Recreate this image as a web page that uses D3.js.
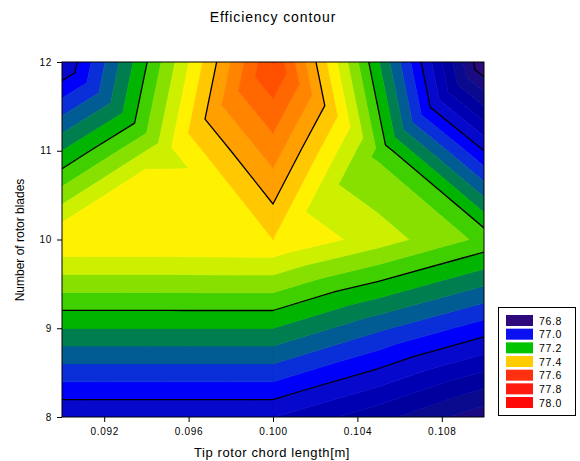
<!DOCTYPE html>
<html><head><meta charset="utf-8">
<script src="https://cdn.jsdelivr.net/npm/d3@7"></script>
<style>
html,body{margin:0;padding:0;background:#fff;}
svg text{font-family:"Liberation Sans",Arial,sans-serif;fill:#000;}
</style></head><body>
<svg id="chart" width="580" height="461"></svg>
<script>
// ---- data (grid nodes) ----
const chordLengths = [0.090, 0.095, 0.100, 0.105, 0.110];   // x grid [m]
const bladeCounts  = [8, 9, 10, 11, 12];                     // y grid
const effBlades8  = [76.961, 76.961, 76.961, 76.894, 76.815];
const effBlades9  = [77.160, 77.160, 77.160, 77.088, 77.020];
const effBlades10 = [77.358, 77.358, 77.360, 77.300, 77.230];
const effBlades11 = [77.160, 77.310, 77.460, 77.231, 77.000];
const effBlades12 = [76.957, 77.258, 77.563, 77.163, 76.760];

const fillThresholds = [76.76, 76.80, 76.84, 76.88, 76.92, 76.96, 77.00, 77.04, 77.08, 77.12,
                        77.16, 77.20, 77.24, 77.28, 77.32, 77.36, 77.40, 77.44, 77.48, 77.52, 77.56];
const fillColors = ["#300a78", "#2a0a7c", "#1a0a84", "#0a0a8e", "#00009e", "#0000b2", "#0608cc",
                    "#0000fa", "#0a2ed8", "#005c92", "#007e50", "#00b400", "#40d000", "#88e000",
                    "#ccf000", "#fff200", "#ffc800", "#ffa000", "#ff8400", "#ff6800", "#ff5000", "#ff3c00"];
const lineLevels = [76.8, 77.0, 77.2, 77.4];

const xTicks = [0.092, 0.096, 0.100, 0.104, 0.108];
const yTicks = [8, 9, 10, 11, 12];

const legendLabels = ["76.8", "77.0", "77.2", "77.4", "77.6", "77.8", "78.0"];
const legendColors = ["#2c0a7c", "#0a10f0", "#00c400", "#ffcc00", "#ff3010", "#ff1a10", "#ff0808"];

// ---- layout ----
const svg = d3.select("#chart");
const plot = {left: 62, right: 484, top: 62, bottom: 417};
const x = d3.scaleLinear().domain([0.090, 0.110]).range([plot.left, plot.right]);
const y = d3.scaleLinear().domain([8, 12]).range([plot.bottom, plot.top]);

const grid = [effBlades8, effBlades9, effBlades10, effBlades11, effBlades12];
function node(i, j) { return {x: x(chordLengths[i]), y: y(bladeCounts[j]), v: grid[j][i]}; }

// triangulation of the grid (alternating diagonals)
const triangles = [];
for (let j = 0; j < bladeCounts.length - 1; j++) {
  for (let i = 0; i < chordLengths.length - 1; i++) {
    const a = node(i, j), b = node(i + 1, j), c = node(i + 1, j + 1), d = node(i, j + 1);
    if ((i + j) % 2 === 1) { triangles.push([a, b, d]); triangles.push([b, c, d]); }
    else { triangles.push([a, b, c]); triangles.push([a, c, d]); }
  }
}

function interp(p, q, L) {
  const t = (L - p.v) / (q.v - p.v);
  return {x: p.x + t * (q.x - p.x), y: p.y + t * (q.y - p.y), v: L};
}
function clip(poly, L, above) {
  const out = [];
  const n = poly.length;
  for (let k = 0; k < n; k++) {
    const cur = poly[k], prev = poly[(k + n - 1) % n];
    const ci = above ? cur.v >= L : cur.v < L;
    const pi = above ? prev.v >= L : prev.v < L;
    if (ci) { if (!pi) out.push(interp(prev, cur, L)); out.push(cur); }
    else if (pi) out.push(interp(prev, cur, L));
  }
  return out;
}

svg.append("defs").append("clipPath").attr("id", "plotClip")
  .append("rect").attr("x", plot.left).attr("y", plot.top)
  .attr("width", plot.right - plot.left).attr("height", plot.bottom - plot.top);

const gPlot = svg.append("g").attr("clip-path", "url(#plotClip)");

fillColors.forEach((col, k) => {
  const lo = k === 0 ? -Infinity : fillThresholds[k - 1];
  const hi = k === fillThresholds.length ? Infinity : fillThresholds[k];
  let d = "";
  triangles.forEach(tri => {
    let poly = tri;
    if (lo !== -Infinity) poly = clip(poly, lo, true);
    if (poly.length >= 3 && hi !== Infinity) poly = clip(poly, hi, false);
    if (poly.length >= 3) {
      d += "M" + poly.map(p => p.x.toFixed(2) + "," + p.y.toFixed(2)).join("L") + "Z";
    }
  });
  if (d) gPlot.append("path").attr("d", d).attr("fill", col)
    .attr("stroke", col).attr("stroke-width", 0.6).attr("stroke-linejoin", "round");
});

// contour lines
const gLines = svg.append("g").attr("clip-path", "url(#plotClip)");
lineLevels.forEach(L => {
  let d = "";
  triangles.forEach(tri => {
    const pts = [];
    for (let k = 0; k < 3; k++) {
      const p = tri[k], q = tri[(k + 1) % 3];
      if ((p.v >= L) !== (q.v >= L)) pts.push(interp(p, q, L));
    }
    if (pts.length === 2) d += "M" + pts[0].x.toFixed(2) + "," + pts[0].y.toFixed(2) +
                               "L" + pts[1].x.toFixed(2) + "," + pts[1].y.toFixed(2);
  });
  gLines.append("path").attr("d", d).attr("fill", "none")
    .attr("stroke", "#000").attr("stroke-width", 1.3).attr("stroke-linecap", "round");
});

// frame
svg.append("rect").attr("x", plot.left).attr("y", plot.top)
  .attr("width", plot.right - plot.left).attr("height", plot.bottom - plot.top)
  .attr("fill", "none").attr("stroke", "#000").attr("stroke-width", 1);

// axes
const yAxis = d3.axisLeft(y).tickValues(yTicks).tickFormat(d3.format("d")).tickSize(5).tickPadding(5);
const gy = svg.append("g").attr("transform", `translate(${plot.left},0)`).call(yAxis);
const xAxis = d3.axisBottom(x).tickValues(xTicks).tickFormat(d3.format(".3f")).tickSize(5).tickPadding(6);
const gx = svg.append("g").attr("transform", `translate(0,${plot.bottom})`).call(xAxis);
[gx, gy].forEach(g => {
  g.select(".domain").remove();
  g.selectAll("text").attr("font-size", 10).style("letter-spacing", "0.7px")
    .style("font-family", '"Liberation Sans",Arial,sans-serif');
  g.selectAll("line").attr("stroke", "#000");
});

// titles
svg.append("text").attr("x", 273).attr("y", 22).attr("text-anchor", "middle")
  .attr("font-size", 14).style("letter-spacing", "0.9px").text("Efficiency contour");
svg.append("text").attr("x", 272).attr("y", 457).attr("text-anchor", "middle")
  .attr("font-size", 13).style("letter-spacing", "0.6px").text("Tip rotor chord length[m]");
svg.append("text").attr("transform", "translate(24,240) rotate(-90)").attr("text-anchor", "middle")
  .attr("font-size", 12).text("Number of rotor blades");

// legend
const lg = svg.append("g");
lg.append("rect").attr("x", 498.5).attr("y", 307.5).attr("width", 77).attr("height", 108)
  .attr("fill", "#fff").attr("stroke", "#000").attr("stroke-width", 1);
legendLabels.forEach((lab, k) => {
  const yy = 315 + k * 13.67;
  lg.append("rect").attr("x", 506).attr("y", yy).attr("width", 27).attr("height", 11)
    .attr("fill", legendColors[k]);
  lg.append("text").attr("x", 539).attr("y", yy + 9.5).attr("font-size", 10.5)
    .style("letter-spacing", "0.6px").text(lab);
});
</script>
</body></html>
